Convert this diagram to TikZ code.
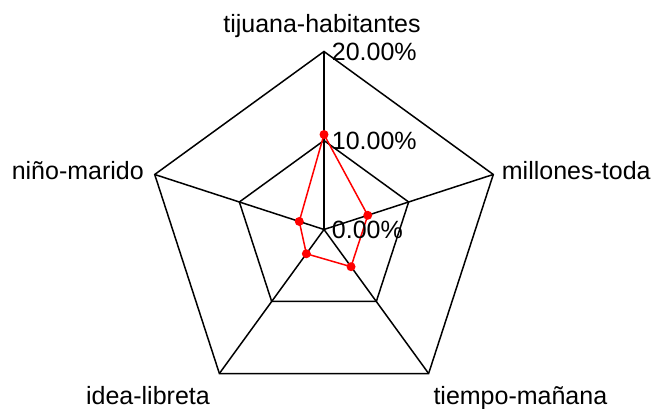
\documentclass[tikz,border=0pt]{standalone}
\usepackage{fontspec}
\setmainfont{Liberation Sans}
\usetikzlibrary{calc}
\begin{document}
\begin{tikzpicture}[x=1pt,y=1pt,
  grid/.style={draw=black,line width=1.5pt,line join=miter},
  series/.style={draw=red,line width=1.5pt,line join=round},
  dot/.style={circle,fill=red,inner sep=0pt,minimum size=9pt},
  lbl/.style={font=\fontsize{25}{30}\selectfont,inner sep=0pt}]
\useasboundingbox (0,0) rectangle (657,409);
\coordinate (O) at (324,179.5);
\foreach \i/\a in {1/90,2/18,3/-54,4/-126,5/162}{
  \coordinate (v\i) at ($(O)+(\a:178)$);
  \coordinate (m\i) at ($(O)+(\a:89)$);
}
% grid
\draw[grid] (v1)--(v2)--(v3)--(v4)--(v5)--cycle;
\draw[grid] (m1)--(m2)--(m3)--(m4)--(m5)--cycle;
\foreach \i in {1,...,5}{\draw[grid] (O)--(v\i);}
% data
\node[dot] (d1) at ($(O)+(90:95)$) {};
\node[dot] (d2) at ($(O)+(18:46)$) {};
\node[dot] (d3) at ($(O)+(-54:46)$) {};
\node[dot] (d4) at ($(O)+(-126:30)$) {};
\node[dot] (d5) at ($(O)+(162:26)$) {};
\draw[series] (d1.center)--(d2.center)--(d3.center)--(d4.center)--(d5.center)--cycle;
% axis labels
\node[lbl,anchor=base] (l1) at (322,376.7) {tijuana-habitantes};
\node[lbl,anchor=base west] (l2) at (501.7,229) {millones-toda};
\node[lbl,anchor=base west] (l3) at (433.3,4) {tiempo-mañana};
\node[lbl,anchor=base east] (l4) at (210,4) {idea-libreta};
\node[lbl,anchor=base east] (l5) at (144,229) {niño-marido};
% scale labels
\node[lbl,anchor=base west] (s20) at (331.7,348) {20.00\%};
\node[lbl,anchor=base west] (s10) at (331.7,259.7) {10.00\%};
\node[lbl,anchor=base west] (s0) at (331.7,170.7) {0.00\%};
\end{tikzpicture}
\end{document}
